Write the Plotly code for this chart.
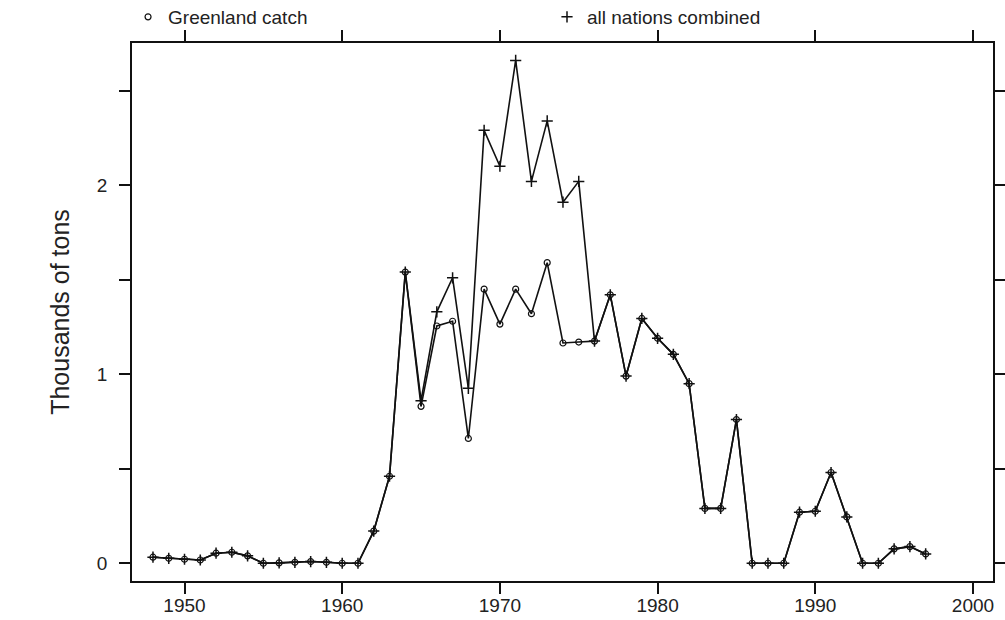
import plotly.graph_objects as go

# Annual catch, thousands of tons
years = list(range(1948, 1998))

greenland_catch = [
    0.032, 0.026, 0.021, 0.017, 0.053, 0.058, 0.039, 0.000, 0.002, 0.005,  # 1948-1957
    0.009, 0.005, 0.000, 0.000, 0.170, 0.460, 1.540, 0.830, 1.255, 1.280,  # 1958-1967
    0.660, 1.450, 1.265, 1.450, 1.320, 1.590, 1.165, 1.170, 1.175, 1.420,  # 1968-1977
    0.990, 1.295, 1.190, 1.105, 0.950, 0.290, 0.290, 0.760, 0.000, 0.000,  # 1978-1987
    0.000, 0.270, 0.275, 0.480, 0.245, 0.000, 0.000, 0.076, 0.088, 0.049,  # 1988-1997
]

all_nations = [
    0.032, 0.026, 0.021, 0.017, 0.053, 0.058, 0.039, 0.000, 0.002, 0.005,
    0.009, 0.005, 0.000, 0.000, 0.170, 0.460, 1.540, 0.860, 1.330, 1.510,
    0.925, 2.290, 2.100, 2.660, 2.020, 2.340, 1.910, 2.020, 1.175, 1.420,
    0.990, 1.295, 1.190, 1.105, 0.950, 0.290, 0.290, 0.760, 0.000, 0.000,
    0.000, 0.270, 0.275, 0.480, 0.245, 0.000, 0.000, 0.076, 0.088, 0.049,
]

x_ticks = [1950, 1960, 1970, 1980, 1990, 2000]
y_ticks = [0, 0.5, 1, 1.5, 2, 2.5]
y_tick_text = ["0", "", "1", "", "2", ""]

FONT = "Liberation Sans, Arial, sans-serif"
INK = "#111111"
TEXT = "#222222"

circle_marker = dict(symbol="circle-open", size=6, color=INK, line=dict(width=1.2, color=INK))
plus_marker = dict(symbol="cross-thin", size=8, color=INK, line=dict(width=1.5, color=INK))

fig = go.Figure()

fig.add_trace(go.Scatter(
    x=years, y=all_nations, mode="lines+markers",
    line=dict(color=INK, width=1.6), marker=plus_marker,
    name="all nations combined", showlegend=False,
))
fig.add_trace(go.Scatter(
    x=years, y=greenland_catch, mode="lines+markers",
    line=dict(color=INK, width=1.6), marker=circle_marker,
    name="Greenland catch", showlegend=False,
))

# key entries: symbols only, one key per column
fig.add_trace(go.Scatter(x=[None], y=[None], mode="markers", marker=circle_marker,
                         name="Greenland catch", showlegend=True, legend="legend"))
fig.add_trace(go.Scatter(x=[None], y=[None], mode="markers", marker=plus_marker,
                         name="all nations combined", showlegend=True, legend="legend2"))

axis_common = dict(
    showline=True, linecolor=INK, linewidth=1.6, mirror="ticks",
    ticks="outside", ticklen=11, tickwidth=1.6, tickcolor=INK,
    showgrid=False, zeroline=False,
    tickfont=dict(family=FONT, size=19, color=TEXT),
)

key_common = dict(
    orientation="h", xanchor="left",
    yref="container", y=1 - 17 / 620, yanchor="middle",
    font=dict(family=FONT, size=19, color=TEXT),
    bgcolor="rgba(0,0,0,0)", borderwidth=0,
)

fig.update_layout(
    width=1005, height=620,
    margin=dict(l=132, r=12, t=43, b=39, autoexpand=False),
    paper_bgcolor="white", plot_bgcolor="white",
    font=dict(family=FONT, color=TEXT),
    xaxis=dict(range=[1946.67, 2001.27], tickvals=x_ticks, ticklabelstandoff=-5, **axis_common),
    yaxis=dict(range=[-0.094, 2.752], tickvals=y_ticks, ticktext=y_tick_text,
               ticklabelstandoff=8,
               title=dict(text="Thousands of tons", font=dict(family=FONT, size=25, color=TEXT),
                          standoff=20),
               **axis_common),
    legend=dict(x=-0.0046, **key_common),
    legend2=dict(x=0.482, **key_common),
)

fig.write_html("out.html")
